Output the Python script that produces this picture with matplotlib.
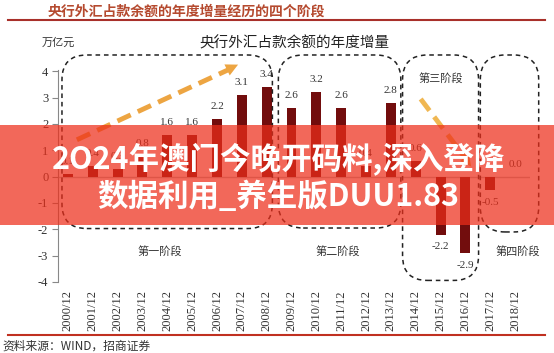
import numpy as np
import matplotlib
matplotlib.use("Agg")
import matplotlib.pyplot as plt
from matplotlib.patches import FancyBboxPatch, Rectangle
from matplotlib.lines import Line2D

plt.rcParams['font.family'] = ['Noto Sans CJK SC', 'DejaVu Sans']
plt.rcParams['axes.unicode_minus'] = False

years = ["2000/12", "2001/12", "2002/12", "2003/12", "2004/12", "2005/12", "2006/12",
         "2007/12", "2008/12", "2009/12", "2010/12", "2011/12", "2012/12", "2013/12",
         "2014/12", "2015/12", "2016/12", "2017/12", "2018/12"]
increase = [0.1, 0.4, 0.3, 0.8, 1.6, 1.6, 2.2, 3.1, 3.4, 2.6, 3.2, 2.6, 0.4, 2.8,
            0.6, -2.2, -2.9, -0.5, 0.0]

# phase boxes: (x from, x to, y bottom, label, label x, label y)
phases = [(-0.24, 8.23, -1.97, "第一阶段", 3.7, -2.85),
          (8.47, 13.4, -1.95, "第二阶段", 10.85, -2.85),
          (13.47, 16.53, -3.94, "第三阶段", 15.0, 3.75),
          (16.6, 18.95, -2.1, "第四阶段", 18.1, -2.85)]
box_top = 4.62

fig = plt.figure(figsize=(5.54, 3.53), dpi=100)
ax = fig.add_axes([58/554, 71/353, 472/554, 212/353])

x = np.arange(len(years))
ax.bar(x, increase, width=0.4, color='#720d0d', zorder=3)
ax.axhline(0, color='#bbbbbb', lw=1, zorder=2)

serif = 'Liberation Serif'
for xi, v in zip(x, increase):
    if v < 0:
        ax.text(xi, v - 0.3, "%.1f" % v, ha='center', va='top', fontsize=8,
                family=serif, color='#333333')
    else:
        ax.text(xi, v + 0.3, "%.1f" % v, ha='center', va='bottom', fontsize=8,
                family=serif, color='#333333')

for x0, x1, yb, name, lx, ly in phases:
    box = FancyBboxPatch((x0, yb), x1 - x0, box_top - yb,
                         boxstyle='round,pad=0,rounding_size=1.0',
                         mutation_aspect=0.94, fill=False, ec='#222222',
                         lw=1.1, ls=(0, (3, 2.5)), clip_on=False, zorder=4)
    ax.add_patch(box)
    ax.text(lx, ly, name, ha='center', va='center', fontsize=8, color='#333333')

# trend arrows
ax.plot([0.36, 6.55], [1.4, 4.1], color='#eda542', lw=3.5, ls=(0, (3, 1.6)),
        solid_capstyle='butt', clip_on=False, zorder=5)
ax.annotate('', xy=(6.95, 4.3), xytext=(6.4, 4.05),
            arrowprops=dict(arrowstyle='-|>', color='#eda542', lw=0,
                            mutation_scale=22), annotation_clip=False, zorder=5)
ax.plot([14.2, 16.0], [2.95, 0.7], color='#f0b752', lw=3.5, ls=(0, (3, 1.6)),
        solid_capstyle='butt', clip_on=False, zorder=5)
ax.annotate('', xy=(16.3, 0.3), xytext=(15.9, 0.8),
            arrowprops=dict(arrowstyle='-|>', color='#f0b752', lw=0,
                            mutation_scale=20), annotation_clip=False, zorder=5)

ax.set_xlim(-0.4, 18.6)
ax.set_ylim(-4, 4.05)
ax.set_yticks(range(-4, 5))
ax.set_xticks(x)
ax.set_xticklabels(years, rotation=90, family=serif, fontsize=9, color='#333333')
for lab in ax.get_yticklabels():
    lab.set_family(serif)
    lab.set_fontsize(9)
    lab.set_color('#333333')
ax.tick_params(axis='x', length=0, pad=6)
ax.tick_params(axis='y', length=4, color='#888888', pad=3)
for s in ['top', 'right', 'bottom']:
    ax.spines[s].set_visible(False)
ax.spines['left'].set_color('#888888')

# header and footer
fig.text(48/554, 1 - 12/353, "央行外汇占款余额的年度增量经历的四个阶段", fontsize=10,
         color='#b54a2f', weight='bold', va='center')
fig.add_artist(Line2D([8/554, 545/554], [1 - 20/353, 1 - 20/353], color='#a8302a', lw=1.5))
fig.text(294/554, 1 - 43/353, "央行外汇占款余额的年度增量", fontsize=10.5,
         color='#222222', ha='center', va='center')
fig.text(42/554, 1 - 43/353, "万亿元", fontsize=8, color='#333333', va='center')
fig.add_artist(Line2D([8/554, 545/554], [1 - 335/353, 1 - 335/353], color='#c03020', lw=1.5))
fig.text(2/554, 1 - 346/353, "资料来源：WIND，招商证券", fontsize=8.5, color='#333333',
         va='center')

# overlay banner
fig.add_artist(Rectangle((0, 1 - 225/353), 1, 100/353, transform=fig.transFigure,
                         color=(0.93, 0.18, 0.10), alpha=0.72, lw=0, zorder=10))
fig.text(0.502, 1 - 160/353, "2O24年澳门今晚开码料,深入登降", fontsize=22, weight='bold',
         color='white', ha='center', va='center', zorder=11)
fig.text(0.502, 1 - 197/353, "数据利用_养生版DUU1.83", fontsize=22, weight='bold',
         color='white', ha='center', va='center', zorder=11)

fig.savefig("out.png", dpi=100)
